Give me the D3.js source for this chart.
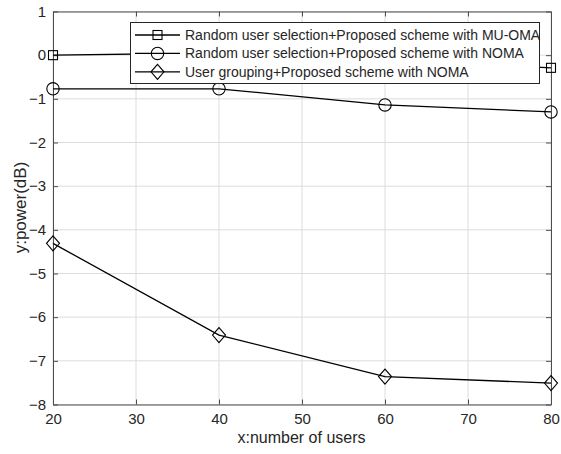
<!DOCTYPE html>
<html>
<head>
<meta charset="utf-8">
<script src="https://cdn.jsdelivr.net/npm/d3@7"></script>
<style>
  html, body { margin: 0; padding: 0; background: #fff; }
  svg { display: block; }
  text { font-family: "Liberation Sans", Arial, sans-serif; fill: #262626; }
</style>
</head>
<body>
<svg id="chart" width="561" height="454"></svg>
<script>
// ---- data ----
const users = [20, 40, 60, 80];
const muOma = [0, 0.05, -0.1, -0.29];
const nomaRandom = [-0.77, -0.77, -1.14, -1.3];
const nomaGrouping = [-4.31, -6.41, -7.36, -7.51];
const xTicks = [20, 30, 40, 50, 60, 70, 80];
const yTicks = [1, 0, -1, -2, -3, -4, -5, -6, -7, -8];
const legendLabels = [
  "Random user selection+Proposed scheme with MU-OMA",
  "Random user selection+Proposed scheme with NOMA",
  "User grouping+Proposed scheme with NOMA"
];
const markerTypes = ["square", "circle", "diamond"];
const xLabel = "x:number of users";
const yLabel = "y:power(dB)";

// ---- layout ----
const L = 53, R = 551, T = 11.5, B = 404.5;
const svg = d3.select("#chart");
const x = d3.scaleLinear().domain([20, 80]).range([L, R]);
const y = d3.scaleLinear().domain([-8, 1]).range([B, T]);

// grid
const grid = svg.append("g");
grid.selectAll("line.gx").data(xTicks).enter().append("line")
  .attr("x1", d => x(d)).attr("x2", d => x(d)).attr("y1", T).attr("y2", B)
  .attr("stroke", "#dcdcdc").attr("stroke-width", 1);
grid.selectAll("line.gy").data(yTicks).enter().append("line")
  .attr("y1", d => y(d)).attr("y2", d => y(d)).attr("x1", L).attr("x2", R)
  .attr("stroke", "#dcdcdc").attr("stroke-width", 1);

// axes (ticks inward)
const tickLen = 5;
const axCol = "#4d4d4d";
const xb = d3.axisBottom(x).tickValues(xTicks).tickSizeInner(-tickLen).tickSizeOuter(0).tickPadding(9);
const xt = d3.axisTop(x).tickValues(xTicks).tickSizeInner(-tickLen).tickSizeOuter(0).tickFormat("");
const yl = d3.axisLeft(y).tickValues(yTicks).tickSizeInner(-tickLen).tickSizeOuter(0).tickPadding(7);
const yr = d3.axisRight(y).tickValues(yTicks).tickSizeInner(-tickLen).tickSizeOuter(0).tickFormat("");

function styleAxis(g) {
  g.selectAll("path").attr("stroke", axCol).attr("stroke-width", 1);
  g.selectAll("line").attr("stroke", axCol).attr("stroke-width", 1);
  g.selectAll("text").attr("font-size", 15).attr("fill", "#262626")
    .attr("font-family", "Liberation Sans, Arial, sans-serif");
}
svg.append("g").attr("transform", `translate(0,${B})`).call(xb).call(styleAxis);
svg.append("g").attr("transform", `translate(0,${T})`).call(xt).call(styleAxis);
svg.append("g").attr("transform", `translate(${L},0)`).call(yl).call(styleAxis);
svg.append("g").attr("transform", `translate(${R},0)`).call(yr).call(styleAxis);

// axis labels
svg.append("text").attr("x", 301.5).attr("y", 442.5)
  .attr("text-anchor", "middle").attr("font-size", 16).text(xLabel);
svg.append("text").attr("transform", `translate(25.5,207.5) rotate(-90)`)
  .attr("text-anchor", "middle").attr("font-size", 17).text(yLabel);

// marker drawing
function drawMarker(g, type, cx, cy) {
  if (type === "square") {
    g.append("rect").attr("x", cx - 4.5).attr("y", cy - 4.5).attr("width", 9).attr("height", 9)
      .attr("fill", "none").attr("stroke", "#000").attr("stroke-width", 1.1);
  } else if (type === "circle") {
    g.append("circle").attr("cx", cx).attr("cy", cy).attr("r", 6.2)
      .attr("fill", "none").attr("stroke", "#000").attr("stroke-width", 1.1);
  } else {
    g.append("path").attr("d", `M${cx},${cy - 7.5}L${cx + 6.5},${cy}L${cx},${cy + 7.5}L${cx - 6.5},${cy}Z`)
      .attr("fill", "none").attr("stroke", "#000").attr("stroke-width", 1.1);
  }
}

const allSeries = [muOma, nomaRandom, nomaGrouping];
const line = d3.line().x((d, i) => x(users[i])).y(d => y(d));
const plot = svg.append("g");
allSeries.forEach((s, k) => {
  plot.append("path").attr("d", line(s)).attr("fill", "none")
    .attr("stroke", "#000").attr("stroke-width", 1.3);
  s.forEach((v, i) => drawMarker(plot, markerTypes[k], x(users[i]), y(v)));
});

// legend
const lg = svg.append("g");
lg.append("rect").attr("x", 130.5).attr("y", 22.5).attr("width", 409).attr("height", 61)
  .attr("fill", "#fff").attr("stroke", "#262626").attr("stroke-width", 1);
legendLabels.forEach((lab, k) => {
  const cy = 35 + k * 18.4;
  lg.append("line").attr("x1", 135).attr("x2", 180).attr("y1", cy).attr("y2", cy)
    .attr("stroke", "#000").attr("stroke-width", 1.3);
  drawMarker(lg, markerTypes[k], 157.5, cy);
  lg.append("text").attr("x", 185).attr("y", cy).attr("dy", "0.35em")
    .attr("font-size", 14).attr("fill", "#000").text(lab);
});
</script>
</body>
</html>
